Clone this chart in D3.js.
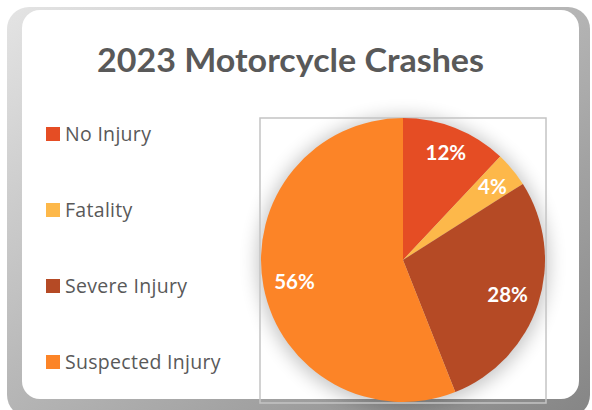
<!DOCTYPE html>
<html><head><meta charset="utf-8">
<script src="https://cdn.jsdelivr.net/npm/d3@7"></script>
<style>html,body{margin:0;padding:0;background:#fff;}svg{display:block;}</style>
</head><body>
<script>
const title = "2023 Motorcycle Crashes";
const categories = ["No Injury", "Fatality", "Severe Injury", "Suspected Injury"];
const values = [12, 4, 28, 56];
const colors = ["#E54D24", "#FDB84A", "#B54A25", "#FC8427"];

const W = 592, H = 410;
const svg = d3.select("body").append("svg").attr("width", W).attr("height", H);
const defs = svg.append("defs");

const g1 = defs.append("linearGradient").attr("id","frame").attr("x1",0).attr("y1",0).attr("x2",1).attr("y2",1);
g1.append("stop").attr("offset",0).attr("stop-color","#e4e4e4");
g1.append("stop").attr("offset",0.35).attr("stop-color","#c2c2c2");
g1.append("stop").attr("offset",1).attr("stop-color","#858585");

const sh = defs.append("filter").attr("id","soft").attr("x","-30%").attr("y","-30%").attr("width","160%").attr("height","160%");
sh.append("feGaussianBlur").attr("stdDeviation",9);

// card frame
svg.append("rect").attr("x",7).attr("y",7).attr("width",583).attr("height",410).attr("rx",22).attr("fill","url(#frame)");
svg.append("rect").attr("x",22).attr("y",10).attr("width",557).attr("height",389).attr("rx",18).attr("fill","#ffffff");

// title
const t = svg.append("text").attr("x",290.5).attr("y",72).attr("text-anchor","middle")
  .attr("font-family","Lato, 'Open Sans', sans-serif").attr("font-weight","bold")
  .attr("font-size",33).attr("fill","#595959").text(title);
t.attr("textLength",387).attr("lengthAdjust","spacingAndGlyphs");

// plot area
const plot = {x:260, y:118, w:286, h:285};
const cx = 403, cy = 260, r = 142;

svg.append("circle").attr("cx",cx).attr("cy",cy+2).attr("r",r+4).attr("fill","#000").attr("opacity",0.22).attr("filter","url(#soft)");
svg.append("rect").attr("x",plot.x).attr("y",plot.y).attr("width",plot.w).attr("height",plot.h)
  .attr("fill","none").attr("stroke","#c4c4c4").attr("stroke-width",1.5);

const pie = d3.pie().sort(null).value(d => d)(values);
const arc = d3.arc().innerRadius(0).outerRadius(r);
const gp = svg.append("g").attr("transform",`translate(${cx},${cy})`);
gp.selectAll("path").data(pie).join("path").attr("d",arc).attr("fill",(d,i)=>colors[i]);

const total = d3.sum(values);
const fmt = d => Math.round(d / total * 100) + "%";
gp.selectAll("text.lbl").data(pie).join("text").attr("class","lbl")
  .attr("text-anchor","middle").attr("dominant-baseline","central")
  .attr("font-family","Lato, 'Open Sans', sans-serif").attr("font-weight","bold")
  .attr("font-size",20.5).attr("fill","#ffffff").text(d => fmt(d.value))
  .each(function(d){
    const bb = this.getBBox();
    const a = (d.startAngle + d.endAngle)/2;
    const sx = Math.sin(a), sy = -Math.cos(a);
    let rr = r;
    for (; rr > 0; rr -= 0.5) {
      const x = sx*rr, y = sy*rr;
      const fx = Math.abs(x) + bb.width/2, fy = Math.abs(y) + 7;
      if (Math.hypot(fx, fy) <= r - 10) break;
    }
    d3.select(this).attr("x", sx*rr).attr("y", sy*rr);
  });

// legend
const ly = d3.scalePoint().domain(categories).range([134, 362]);
const lg = svg.append("g");
categories.forEach((c,i) => {
  lg.append("rect").attr("x",46).attr("y",ly(c)-7).attr("width",14).attr("height",14).attr("fill",colors[i]);
  lg.append("text").attr("x",65).attr("y",ly(c)+7)
    .attr("font-family","'Open Sans', Lato, sans-serif").attr("font-size",19.5).attr("letter-spacing",0.3)
    .attr("fill","#595959").text(c);
});
</script>
</body></html>
